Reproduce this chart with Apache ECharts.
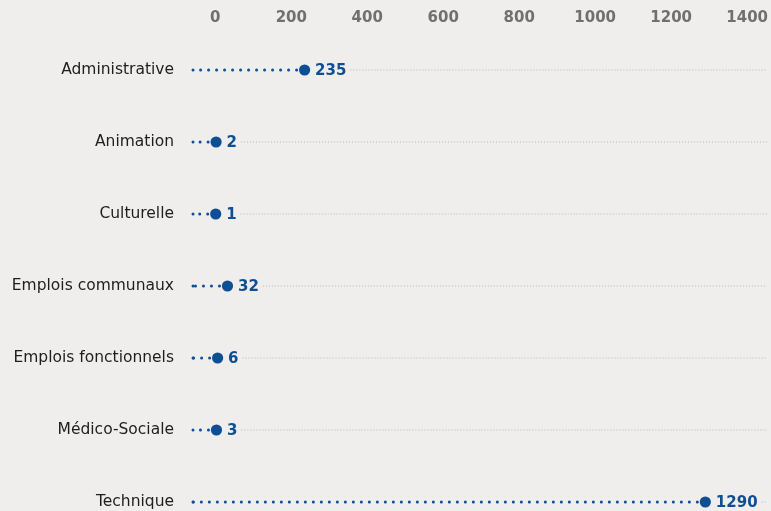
<!DOCTYPE html>
<html>
<head>
<meta charset="utf-8">
<script src="https://cdn.jsdelivr.net/npm/echarts@6/dist/echarts.min.js"></script>
<style>
  html, body { margin: 0; padding: 0; background: #f0eded; }
  #chart { width: 771px; height: 511px; }
</style>
</head>
<body>
<div id="chart"></div>
<script>
// Effectifs par filière
const categories = ['Administrative', 'Animation', 'Culturelle', 'Emplois communaux', 'Emplois fonctionnels', 'Médico-Sociale', 'Technique'];
const values = [235, 2, 1, 32, 6, 3, 1290];
const tickValues = [0, 200, 400, 600, 800, 1000, 1200, 1400];

const BLUE = '#0d4f94';
const VALUE_FONT = 'bold 15px "DejaVu Sans"';

// measure value label widths so the grey guide starts right after the text
const measureCtx = document.createElement('canvas').getContext('2d');
measureCtx.font = VALUE_FONT;
function textWidth(t) { return measureCtx.measureText(t).width; }

const chart = echarts.init(document.getElementById('chart'));

function renderDot(params, api) {
  const v = api.value(0);
  const idx = api.value(1);
  const pt = api.coord([v, idx]);
  const cs = params.coordSys;
  const left = cs.x;
  const right = cs.x + cs.width;
  const label = String(values[params.dataIndex]);
  const tx = pt[0] + 10.5;
  const tw = textWidth(label);
  return {
    type: 'group',
    children: [
      {
        type: 'line',
        shape: { x1: tx + tw + 4, y1: pt[1], x2: right, y2: pt[1] },
        style: { stroke: '#b8b6b5', lineWidth: 1, lineDash: [1, 2] }
      },
      {
        type: 'line',
        shape: { x1: pt[0], y1: pt[1], x2: left, y2: pt[1] },
        style: { stroke: BLUE, lineWidth: 3, lineDash: [0.01, 7.99], lineCap: 'round' }
      },
      {
        type: 'circle',
        shape: { cx: left, cy: pt[1], r: 1.5 },
        style: { fill: BLUE }
      },
      {
        type: 'circle',
        shape: { cx: pt[0], cy: pt[1], r: 5.6 },
        style: { fill: BLUE }
      },
      {
        type: 'text',
        style: {
          x: tx, y: pt[1] + 1, text: label,
          font: VALUE_FONT, fill: BLUE,
          verticalAlign: 'middle', align: 'left'
        }
      }
    ]
  };
}

chart.setOption({
  backgroundColor: '#f0eded',
  animation: false,
  grid: { left: 193, right: 0, top: 70, bottom: 9 },
  xAxis: {
    type: 'value',
    position: 'top',
    min: -58.8,
    max: 1452.3,
    axisLine: { show: false },
    axisTick: { show: false },
    splitLine: { show: false },
    axisLabel: {
      customValues: tickValues,
      formatter: (v) => String(v),
      margin: 52,
      verticalAlign: 'middle',
      color: '#707070',
      fontFamily: 'DejaVu Sans',
      fontWeight: 'bold',
      fontSize: 15
    }
  },
  yAxis: {
    type: 'category',
    data: categories,
    inverse: true,
    boundaryGap: false,
    axisLine: { show: false },
    axisTick: { show: false },
    splitLine: { show: false },
    axisLabel: {
      margin: 19,
      color: '#1e1e1e',
      fontFamily: 'DejaVu Sans',
      fontSize: 15.5
    }
  },
  series: [{
    type: 'custom',
    renderItem: renderDot,
    encode: { x: 0, y: 1 },
    data: values.map((v, i) => [v, i])
  }]
});
</script>
</body>
</html>
